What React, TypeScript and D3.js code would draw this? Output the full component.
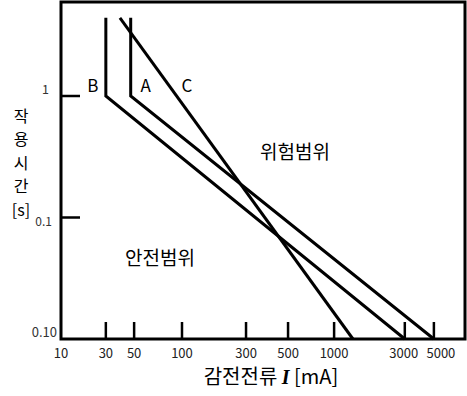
import React from 'react';
import * as d3 from 'd3';

// tick values on the current axis (mA) and time axis (s)
const currentTicks = [10, 30, 50, 100, 300, 500, 1000, 3000, 5000];
const timeTicks = [1, 0.1, 0.01];
const timeTickLabels = ['1', '0.1', '0.10'];

// curves: current I [mA] vs duration t [s]
const curveNames = ['B', 'A', 'C'];
const curveB = [{ i: 30, t: 4.4 }, { i: 30, t: 1 }, { i: 3000, t: 0.01 }];
const curveA = [{ i: 47, t: 4.4 }, { i: 47, t: 1 }, { i: 5000, t: 0.01 }];
const curveC = [{ i: 38.7, t: 4.4 }, { i: 1340, t: 0.01 }];

// the source axis is hand-drawn: relative spacing of its ticks
const tickSpacing = [0, 0.111, 0.181, 0.2995, 0.458, 0.562, 0.676, 0.851, 0.923];

const W = 467;
const H = 396;
const margin = { top: 2, right: 2, bottom: 57, left: 61 };
const KR = '"Malgun Gothic", "Noto Sans CJK KR", sans-serif';

export default function App() {
  const left = margin.left;
  const right = W - margin.right;
  const top = margin.top;
  const bottom = H - margin.bottom;

  const x = d3.scaleLinear()
    .domain(currentTicks.map(v => Math.log10(v)))
    .range(tickSpacing.map(f => left + f * (right - left)));
  const xi = (v: number) => x(Math.log10(v));

  const y = d3.scaleLog().domain([0.01, 1]).range([bottom, 96]);

  const line = d3.line<{ i: number; t: number }>()
    .x(d => xi(d.i))
    .y(d => y(d.t));

  const curves = [curveB, curveA, curveC];

  return (
    <svg width={W} height={H} style={{ position: 'absolute', left: 0, top: 0 }}>
      <rect x={left} y={top} width={right - left} height={bottom - top}
        fill="none" stroke="#000" strokeWidth={3} />

      {currentTicks.slice(1).map(v => (
        <line key={v} x1={xi(v)} x2={xi(v)} y1={bottom} y2={bottom - 17}
          stroke="#000" strokeWidth={2.5} />
      ))}
      {currentTicks.map(v => (
        <text key={'l' + v} x={xi(v) + (v === 5000 ? 7 : v === 3000 ? -1 : 0)} y={bottom + 19}
          textAnchor="middle" fontSize={13} fontFamily={KR} fill="#222">{v}</text>
      ))}

      {timeTicks.slice(0, 2).map(v => (
        <line key={v} x1={left} x2={left + 19} y1={y(v)} y2={y(v)}
          stroke="#000" strokeWidth={2.5} />
      ))}
      <text x={49} y={y(1) - 2} textAnchor="end" fontSize={12.5} fontFamily={KR} fill="#333">{timeTickLabels[0]}</text>
      <text x={52} y={y(0.1) + 8} textAnchor="end" fontSize={12} fontFamily={KR} fill="#333">{timeTickLabels[1]}</text>
      <text x={57} y={y(0.01) - 2} textAnchor="end" fontSize={13} fontFamily={KR} fill="#333">{timeTickLabels[2]}</text>

      {curves.map((c, k) => (
        <path key={k} d={line(c) || ''} fill="none" stroke="#000" strokeWidth={3} />
      ))}

      <text x={xi(30) - 13} y={y(1) - 4} textAnchor="middle" fontSize={17} fontFamily={KR}>{curveNames[0]}</text>
      <text x={xi(47) + 15} y={y(1) - 4} textAnchor="middle" fontSize={17} fontFamily={KR}>{curveNames[1]}</text>
      <text x={187} y={y(1) - 4} textAnchor="middle" fontSize={17} fontFamily={KR}>{curveNames[2]}</text>

      <text x={295} y={159} textAnchor="middle" fontSize={19} fontFamily={KR}>위험범위</text>
      <text x={160} y={265} textAnchor="middle" fontSize={19} fontFamily={KR}>안전범위</text>

      {['작', '용', '시', '간', '[s]'].map((s, k) => (
        <text key={s} x={21} y={122 + k * 23.4} textAnchor="middle" fontSize={16} fontFamily={KR}>{s}</text>
      ))}

      <text x={271} y={384} textAnchor="middle" fontSize={20} fontFamily={KR}>
        감전전류 <tspan fontFamily="'Liberation Serif', serif" fontStyle="italic" fontWeight="bold">I</tspan> [mA]
      </text>
    </svg>
  );
}
